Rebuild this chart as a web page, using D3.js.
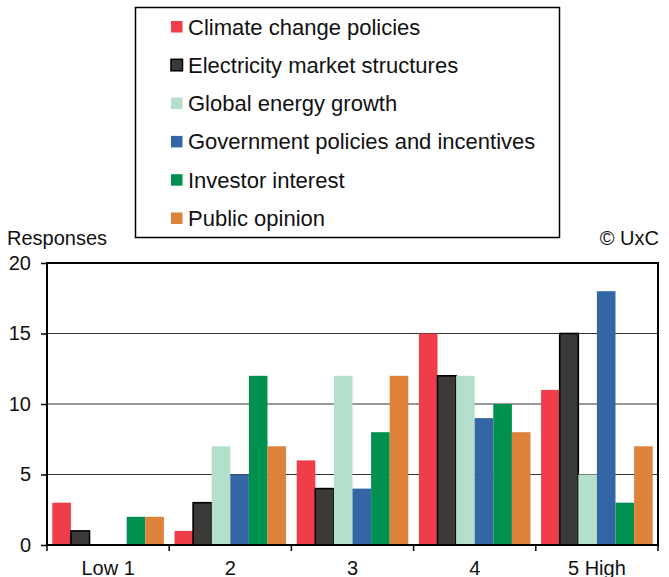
<!DOCTYPE html>
<html><head><meta charset="utf-8">
<script src="https://cdn.jsdelivr.net/npm/d3@7"></script>
<style>body{margin:0;background:#fff}svg{display:block}text{font-family:"Liberation Sans",Arial,sans-serif;fill:#111}</style>
</head><body><svg id="c" width="669" height="577"></svg>
<script>
const categories = ["Low 1", "2", "3", "4", "5 High"];
const seriesNames = ["Climate change policies", "Electricity market structures", "Global energy growth", "Government policies and incentives", "Investor interest", "Public opinion"];
const seriesColors = ["#ef3e4a", "#3b3a38", "#b4dfcb", "#3466a5", "#009150", "#dc823b"];
const climate = [3, 1, 6, 15, 11];
const electricity = [1, 3, 4, 12, 15];
const globalEnergy = [0, 7, 12, 12, 5];
const government = [0, 5, 4, 9, 18];
const investor = [2, 12, 8, 10, 3];
const publicOpinion = [2, 7, 12, 8, 7];
const yTicks = [0, 5, 10, 15, 20];
const seriesValues = [climate, electricity, globalEnergy, government, investor, publicOpinion];

const svg = d3.select("#c");
const L = 47, R = 658, T = 263, B = 545;
const x = d3.scaleBand().domain(categories).range([L, R]).paddingInner(0.087).paddingOuter(0.0435);
const xBand = d3.scaleBand().domain(categories).range([L, R]);
const xs = d3.scaleBand().domain(d3.range(seriesNames.length)).range([0, x.bandwidth()]);
const y = d3.scaleLinear().domain([0, 20]).range([B, T]);
const FF = '"Liberation Sans",Arial,sans-serif';

// gridlines
svg.append("g").selectAll("line").data([5, 10, 15]).join("line")
  .attr("x1", L).attr("x2", R).attr("y1", d => y(d)).attr("y2", d => y(d))
  .attr("stroke", "#333").attr("stroke-width", 1);

// bars
const groups = svg.append("g").selectAll("g").data(categories).join("g")
  .attr("transform", c => `translate(${x(c)},0)`);
groups.selectAll("rect").data((c, ci) => seriesValues.map((vals, si) => ({si, v: vals[ci]})))
  .join("rect")
  .attr("x", d => xs(d.si)).attr("width", xs.bandwidth())
  .attr("y", d => y(d.v)).attr("height", d => B - y(d.v))
  .attr("fill", d => seriesColors[d.si])
  .attr("stroke", d => d.si === 1 ? "#000" : "none")
  .attr("stroke-width", d => d.si === 1 ? 1.6 : 0);

// frame
svg.append("rect").attr("x", L).attr("y", T).attr("width", R - L).attr("height", B - T)
  .attr("fill", "none").attr("stroke", "#000").attr("stroke-width", 2);

// y axis
const yAxis = svg.append("g").attr("transform", `translate(${L},0)`)
  .call(d3.axisLeft(y).tickValues(yTicks).tickSize(6).tickPadding(10));
yAxis.select(".domain").remove();
yAxis.selectAll("line").attr("stroke", "#000").attr("stroke-width", 1.5);
yAxis.selectAll("text").attr("font-size", 20).attr("fill", "#111").style("font-family", FF);

// x axis
const xAxis = svg.append("g").attr("transform", `translate(0,${B})`)
  .call(d3.axisBottom(xBand).tickSize(0).tickPadding(16));
xAxis.select(".domain").remove();
xAxis.selectAll("text").attr("font-size", 20).attr("fill", "#111").style("font-family", FF);
svg.append("g").selectAll("line").data(categories.concat(["end"])).join("line")
  .attr("x1", (d, i) => i < categories.length ? xBand(d) : R)
  .attr("x2", (d, i) => i < categories.length ? xBand(d) : R)
  .attr("y1", B).attr("y2", B + 6).attr("stroke", "#000").attr("stroke-width", 1.5);

svg.append("text").attr("x", 7).attr("y", 245).attr("font-size", 20).text("Responses");
svg.append("text").attr("x", 659).attr("y", 245).attr("font-size", 20).attr("text-anchor", "end").text("© UxC");

// legend
const lg = svg.append("g");
lg.append("rect").attr("x", 135.5).attr("y", 7.5).attr("width", 424).attr("height", 230)
  .attr("fill", "#fff").attr("stroke", "#000").attr("stroke-width", 1.5);
const items = lg.selectAll("g.item").data(seriesNames).join("g").attr("class", "item")
  .attr("transform", (d, i) => `translate(0,${27 + i * 38.3})`);
items.append("rect").attr("x", 171).attr("y", -6).attr("width", 11.5).attr("height", 11.5)
  .attr("fill", (d, i) => seriesColors[i])
  .attr("stroke", (d, i) => i === 1 ? "#000" : "none").attr("stroke-width", 1.5);
items.append("text").attr("x", 188).attr("y", 7.5).attr("font-size", 22).text(d => d);
</script></body></html>
